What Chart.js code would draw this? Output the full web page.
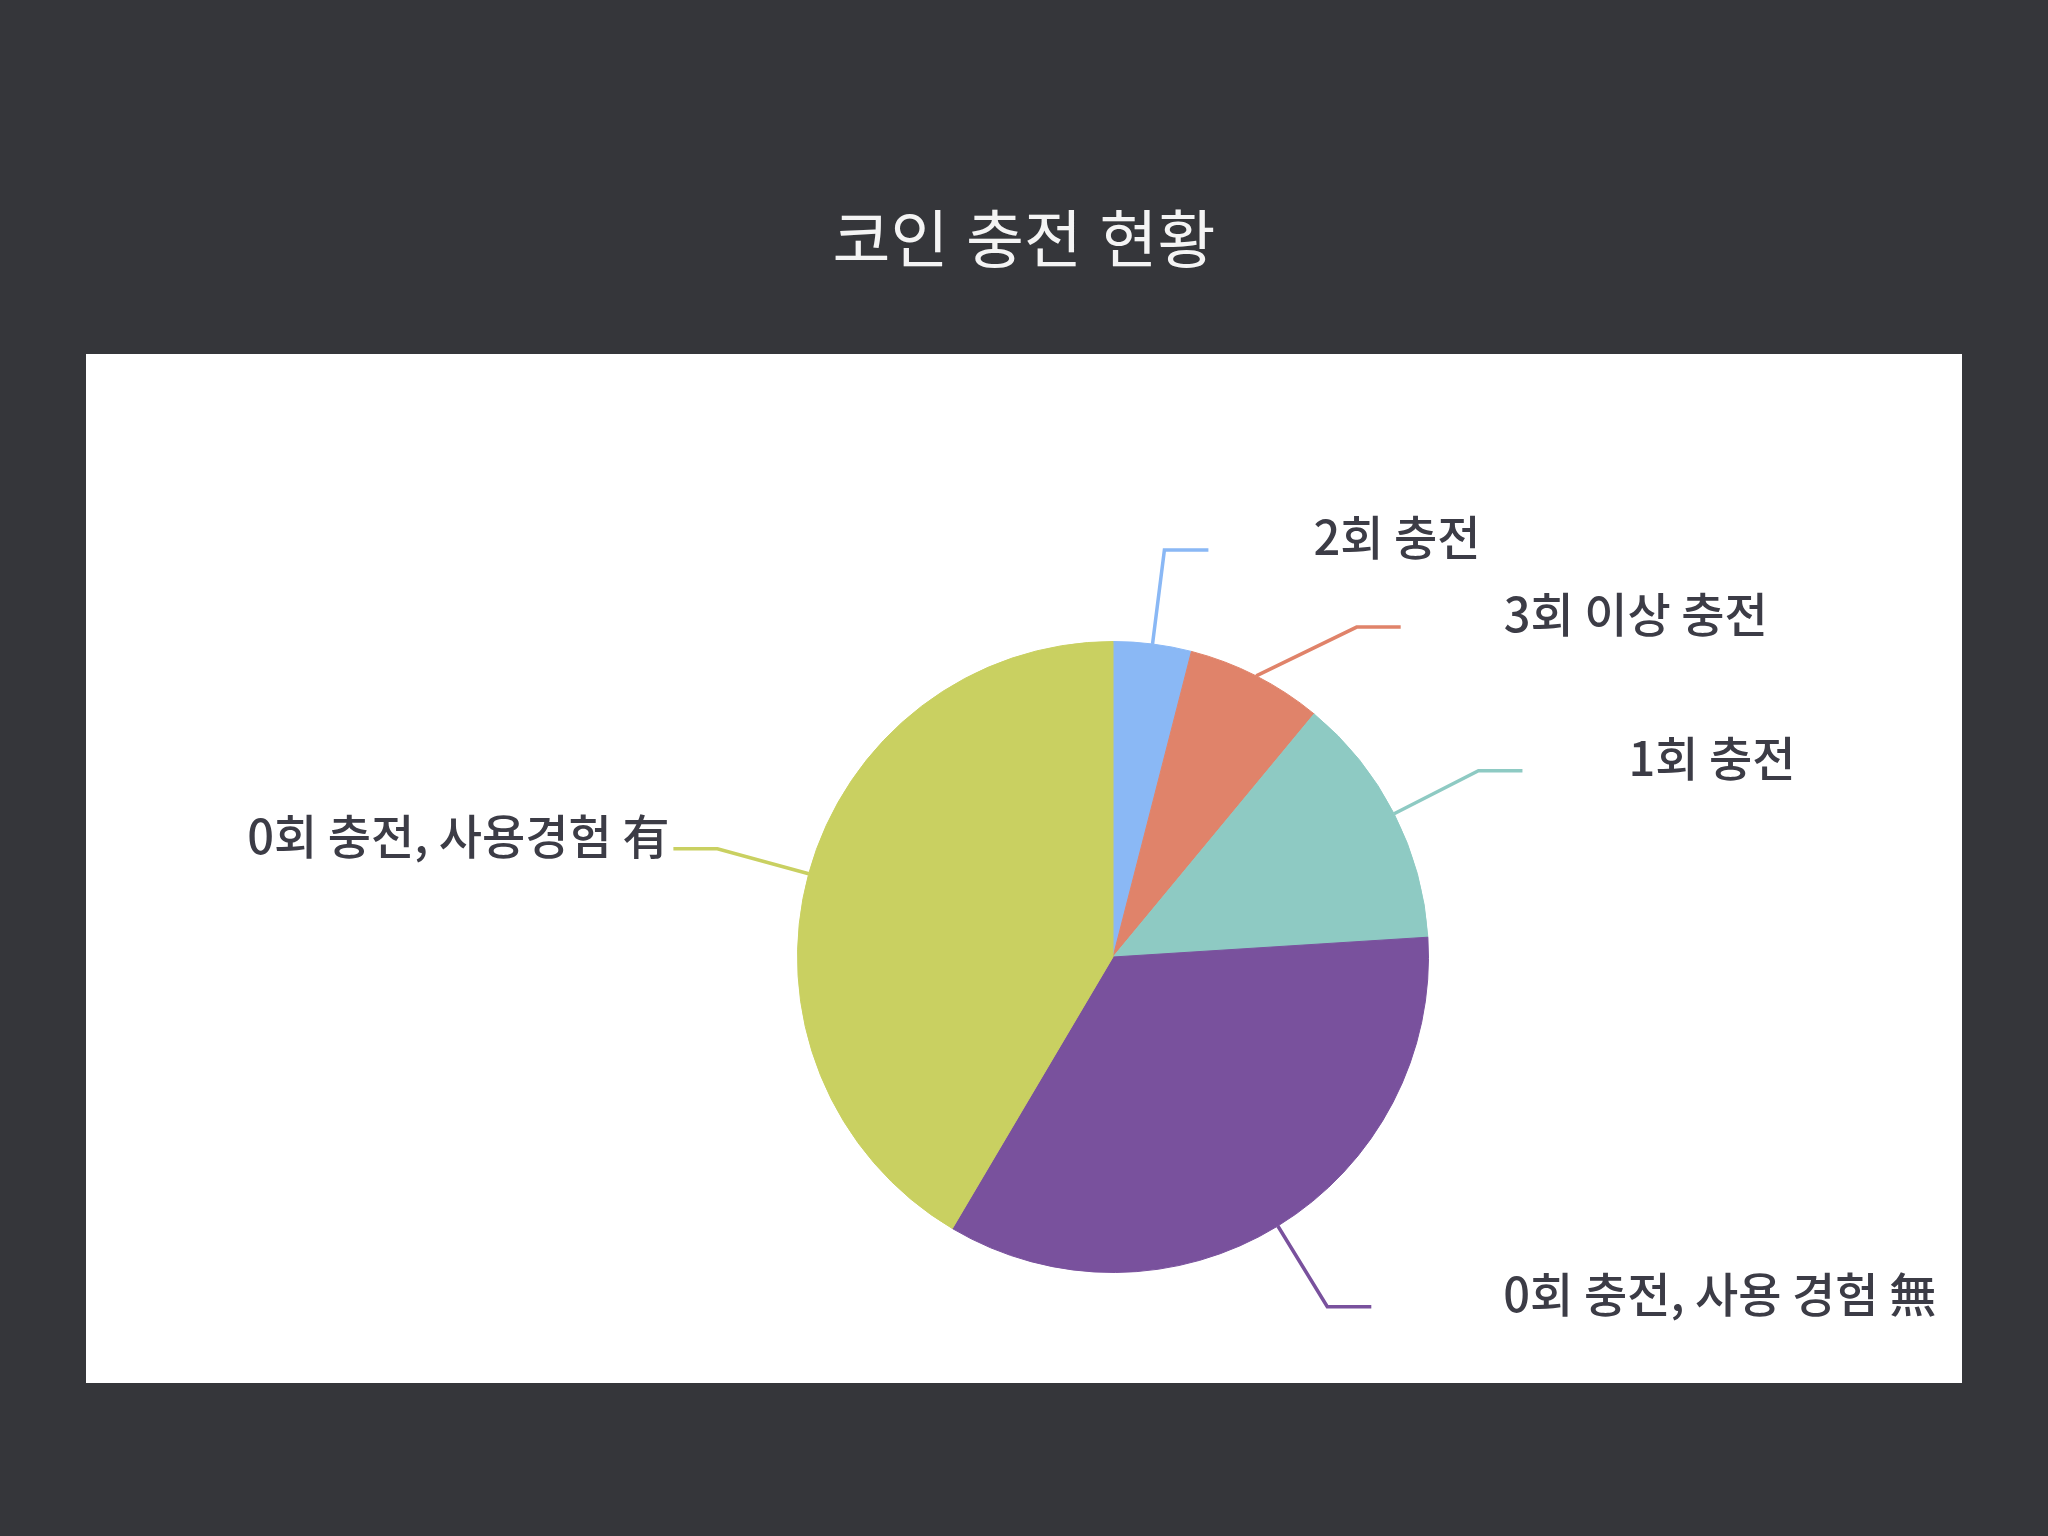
<!DOCTYPE html>
<html lang="ko">
<head>
<meta charset="utf-8">
<title>코인 충전 현황</title>
<script src="https://cdn.jsdelivr.net/npm/chart.js@4.4.1/dist/chart.umd.min.js"></script>
<style>
  html, body { margin: 0; padding: 0; }
  body {
    width: 2048px; height: 1536px; position: relative; overflow: hidden;
    background: #35363a;
    font-family: "Noto Sans CJK KR", "Noto Sans", sans-serif;
  }
  h1 {
    position: absolute; left: 0; top: 194px; width: 2048px; margin: 0;
    text-align: center; color: #f4f4f4;
    font-weight: 400; font-size: 63px; line-height: 82px;
  }
  #box {
    position: absolute; left: 86px; top: 354px;
    width: 1876px; height: 1029px; background: #ffffff;
  }
</style>
</head>
<body>
<h1>코인 충전 현황</h1>
<div id="box"><canvas id="pie" width="1876" height="1029"></canvas></div>
<script>
// slices, clockwise from 12 o'clock
const categories = ["2회 충전", "3회 이상 충전", "1회 충전", "0회 충전, 사용 경험 無", "0회 충전, 사용경험 有"];
const shares = [4, 7, 13, 34.5, 41.5];
const sliceColors = ["#8ab8f5", "#e0836a", "#8ecac3", "#79519d", "#c9d061"];
// space between end of leader line and its text
const labelGaps = [105, 103, 106, 132, 4];

// leader lines: out from mid-angle, elbow on a bigger circle, short horizontal tail
const leaderLabels = {
  id: "leaderLabels",
  afterDatasetsDraw(chart, args, opts) {
    const ctx = chart.ctx;
    const arcs = chart.getDatasetMeta(0).data;
    const items = arcs.map((arc, i) => {
      const p = arc.getProps(["x", "y", "startAngle", "endAngle", "outerRadius"], true);
      const mid = (p.startAngle + p.endAngle) / 2;
      const R = p.outerRadius * opts.elbowScale;
      return {
        i, cx: p.x, cy: p.y, R,
        sx: p.x + Math.cos(mid) * p.outerRadius,
        sy: p.y + Math.sin(mid) * p.outerRadius,
        ey: p.y + Math.sin(mid) * R,
        right: Math.cos(mid) >= 0
      };
    });

    // push labels apart on each side
    [true, false].forEach(side => {
      const grp = items.filter(d => d.right === side).sort((a, b) => a.ey - b.ey);
      for (let k = 1; k < grp.length; k++) {
        if (grp[k].ey < grp[k - 1].ey + opts.minGap) grp[k].ey = grp[k - 1].ey + opts.minGap;
      }
    });

    ctx.save();
    ctx.font = opts.font;
    ctx.lineWidth = 3.5;
    ctx.textBaseline = "middle";
    items.forEach(d => {
      const dy = d.ey - d.cy;
      const dx = Math.sqrt(Math.max(d.R * d.R - dy * dy, 0));
      const ex = d.right ? d.cx + dx : d.cx - dx;
      const tx = d.right ? ex + opts.tail : ex - opts.tail;

      ctx.strokeStyle = sliceColors[d.i];
      ctx.beginPath();
      ctx.moveTo(d.sx, d.sy);
      ctx.lineTo(ex, d.ey);
      ctx.lineTo(tx, d.ey);
      ctx.stroke();

      ctx.fillStyle = opts.color;
      ctx.textAlign = d.right ? "left" : "right";
      const gap = labelGaps[d.i];
      ctx.fillText(categories[d.i], d.right ? tx + gap : tx - gap, d.ey + opts.textShift);
    });
    ctx.restore();
  }
};

new Chart(document.getElementById("pie"), {
  type: "pie",
  data: {
    labels: categories,
    datasets: [{
      data: shares,
      backgroundColor: sliceColors,
      borderColor: sliceColors,
      borderWidth: 1
    }]
  },
  options: {
    responsive: false,
    animation: false,
    layout: { padding: { left: 711, right: 533, top: 287, bottom: 110 } },
    plugins: {
      legend: { display: false },
      tooltip: { enabled: false },
      leaderLabels: {
        elbowScale: 1.3,
        minGap: 77,
        tail: 44,
        textShift: -13,
        color: "#3c3c46",
        font: "500 47px 'Noto Sans CJK KR', 'Noto Sans', sans-serif"
      }
    }
  },
  plugins: [leaderLabels]
});
</script>
</body>
</html>
